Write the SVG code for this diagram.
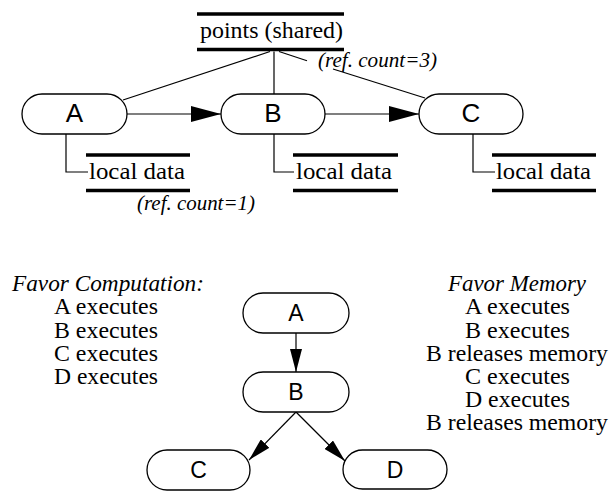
<svg xmlns="http://www.w3.org/2000/svg" width="611" height="491" viewBox="0 0 611 491">
<style>
.node rect{fill:#fff;stroke:#000;stroke-width:1.3}
.nl{font-family:"Liberation Sans",Arial,sans-serif;fill:#000;text-anchor:middle}
.big{font-size:26px}
.small{font-size:23px}
.t{font-family:"Liberation Serif","Times New Roman",serif;font-size:22.5px;fill:#000}
.it{font-style:italic}
.ref{font-size:20px}
.bar{stroke:#000;stroke-width:3.6}
.conn line,.conn polyline{stroke:#000;stroke-width:1.2;fill:none}
</style>
<defs>
<marker id="ahBig" markerUnits="userSpaceOnUse" markerWidth="30" markerHeight="16" refX="30" refY="8" orient="auto"><path d="M0,0 L30,8 L0,16 z" fill="#000"/></marker>
<marker id="ahSmall" markerUnits="userSpaceOnUse" markerWidth="23" markerHeight="12" refX="23" refY="6" orient="auto"><path d="M0,0 L23,6 L0,12 z" fill="#000"/></marker>
</defs>

<g id="connectors" class="conn">
<line x1="270" y1="51.5" x2="123" y2="100"/>
<line x1="274" y1="51.5" x2="274" y2="94"/>
<line x1="279" y1="51.5" x2="307" y2="60.7"/>
<line x1="333" y1="69" x2="425" y2="98"/>
<line x1="127" y1="114" x2="221" y2="114" marker-end="url(#ahBig)"/>
<line x1="325" y1="114" x2="419" y2="114" marker-end="url(#ahBig)"/>
<polyline points="66,134 66,172 88,172"/>
<polyline points="274,134 274,172 294,172"/>
<polyline points="473,134 473,172 495,172"/>
<line x1="296" y1="333" x2="296" y2="372" marker-end="url(#ahSmall)"/>
<line x1="296" y1="412" x2="249" y2="460" marker-end="url(#ahSmall)"/>
<line x1="296" y1="412" x2="345" y2="461" marker-end="url(#ahSmall)"/>
</g>

<g id="points-shared">
<line class="bar" x1="197" y1="14" x2="344" y2="14"/>
<line class="bar" x1="197" y1="49.5" x2="344" y2="49.5"/>
<text class="t" x="200" y="37.5" textLength="143" lengthAdjust="spacingAndGlyphs">points (shared)</text>
<text class="t it ref" x="318" y="67" textLength="119" lengthAdjust="spacingAndGlyphs">(ref. count=3)</text>
</g>

<g id="top-A" class="node"><rect x="22" y="94" width="105" height="40" rx="20"/><text class="nl big" x="74.5" y="122">A</text></g>
<g id="top-B" class="node"><rect x="221" y="94" width="104" height="40" rx="20"/><text class="nl big" x="273" y="122">B</text></g>
<g id="top-C" class="node"><rect x="419" y="94" width="104" height="40" rx="20"/><text class="nl big" x="471" y="122">C</text></g>

<g id="local-A">
<line class="bar" x1="86" y1="155" x2="190" y2="155"/>
<line class="bar" x1="86" y1="190.5" x2="190" y2="190.5"/>
<text class="t" x="89" y="178.5" textLength="96" lengthAdjust="spacingAndGlyphs">local data</text>
<text class="t it ref" x="137" y="210" textLength="118" lengthAdjust="spacingAndGlyphs">(ref. count=1)</text>
</g>
<g id="local-B">
<line class="bar" x1="293" y1="155" x2="398" y2="155"/>
<line class="bar" x1="293" y1="190.5" x2="398" y2="190.5"/>
<text class="t" x="296" y="178.5" textLength="96" lengthAdjust="spacingAndGlyphs">local data</text>
</g>
<g id="local-C">
<line class="bar" x1="492" y1="155" x2="596" y2="155"/>
<line class="bar" x1="492" y1="190.5" x2="596" y2="190.5"/>
<text class="t" x="496" y="178.5" textLength="95" lengthAdjust="spacingAndGlyphs">local data</text>
</g>

<g id="favor-computation">
<text class="t it" x="12" y="291" textLength="192" lengthAdjust="spacingAndGlyphs">Favor Computation:</text>
<text class="t" x="54" y="314" textLength="104" lengthAdjust="spacingAndGlyphs">A executes</text>
<text class="t" x="54" y="337.5" textLength="104" lengthAdjust="spacingAndGlyphs">B executes</text>
<text class="t" x="54" y="360.5" textLength="104" lengthAdjust="spacingAndGlyphs">C executes</text>
<text class="t" x="54" y="384" textLength="104" lengthAdjust="spacingAndGlyphs">D executes</text>
</g>

<g id="favor-memory">
<text class="t it" x="448" y="291" textLength="138" lengthAdjust="spacingAndGlyphs">Favor Memory</text>
<text class="t" x="465" y="314" textLength="105" lengthAdjust="spacingAndGlyphs">A executes</text>
<text class="t" x="465" y="337.5" textLength="105" lengthAdjust="spacingAndGlyphs">B executes</text>
<text class="t" x="426" y="360.5" textLength="182" lengthAdjust="spacingAndGlyphs">B releases memory</text>
<text class="t" x="465" y="384" textLength="105" lengthAdjust="spacingAndGlyphs">C executes</text>
<text class="t" x="465" y="407" textLength="105" lengthAdjust="spacingAndGlyphs">D executes</text>
<text class="t" x="426" y="430" textLength="182" lengthAdjust="spacingAndGlyphs">B releases memory</text>
</g>

<g id="bot-A" class="node"><rect x="243" y="293" width="106" height="40" rx="20"/><text class="nl small" x="296" y="321">A</text></g>
<g id="bot-B" class="node"><rect x="243" y="372" width="106" height="40" rx="20"/><text class="nl small" x="296" y="400">B</text></g>
<g id="bot-C" class="node"><rect x="147" y="450" width="103" height="40" rx="20"/><text class="nl small" x="198.5" y="478">C</text></g>
<g id="bot-D" class="node"><rect x="343" y="450" width="104" height="39" rx="19.5"/><text class="nl small" x="395" y="478">D</text></g>
</svg>
